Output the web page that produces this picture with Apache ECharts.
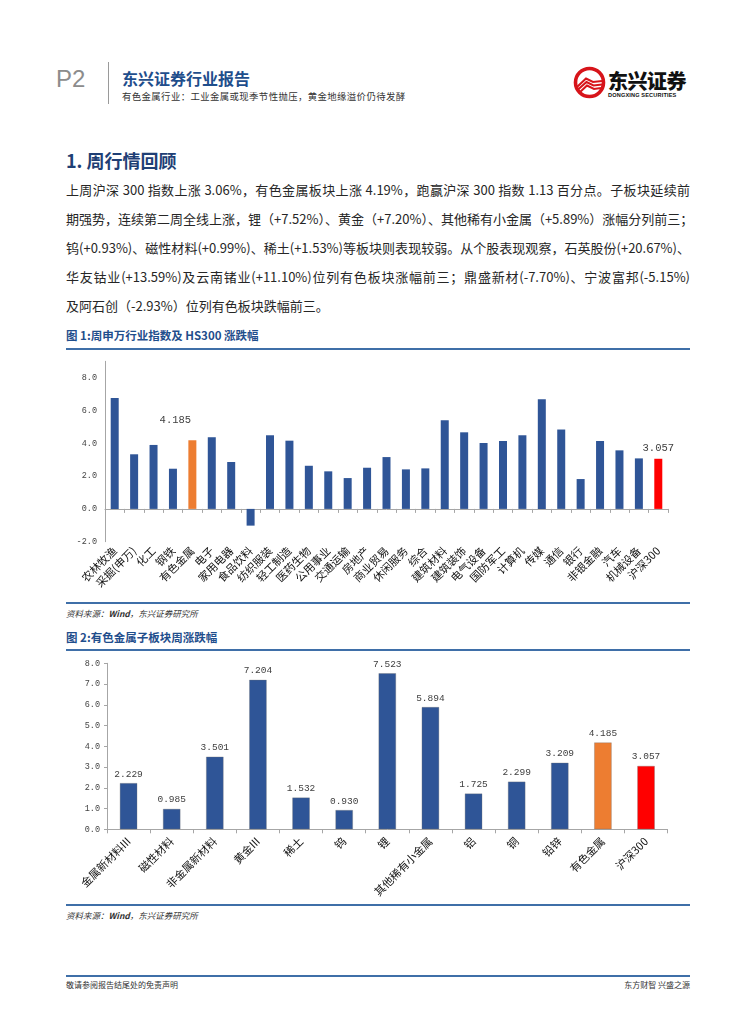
<!DOCTYPE html>
<html><head><meta charset="utf-8">
<script src="https://cdn.jsdelivr.net/npm/echarts@6/dist/echarts.min.js"></script>
<style>
html,body{margin:0;padding:0;background:#fff}
body{width:755px;height:1024px;position:relative;overflow:hidden;font-family:"Noto Sans CJK SC","Noto Sans",sans-serif;color:#222}
.abs{position:absolute;white-space:nowrap}
.para{position:absolute;left:66px;width:624px;font-size:13px;line-height:20px;text-align:justify;text-align-last:justify;color:#262626;white-space:nowrap}
.figt{position:absolute;left:66px;font-size:11.5px;font-weight:bold;color:#1F4E8C;line-height:14px}
.hl{position:absolute;left:66px;width:624px;height:2px;background:#3F6FA8}
.src{position:absolute;left:66px;font-size:8.5px;font-style:italic;color:#333;line-height:10px}
</style></head><body>

<!-- header -->
<div class="abs" style="left:56px;top:64px;font-family:'Liberation Sans',sans-serif;font-size:24px;color:#8c8c8c;line-height:30px">P2</div>
<div class="abs" style="left:108px;top:62px;width:1px;height:42px;background:#9a9a9a"></div>
<div class="abs" style="left:122px;top:69px;font-size:16px;font-weight:bold;color:#1F4E8C;line-height:18px">东兴证券行业报告</div>
<div class="abs" style="left:122px;top:91px;font-size:9.4px;color:#333;line-height:11px;letter-spacing:0.4px">有色金属行业：工业金属或现季节性抛压，黄金地缘溢价仍待发酵</div>
<svg class="abs" style="left:573px;top:66px" width="33" height="33" viewBox="0 0 33 33">
  <circle cx="16.5" cy="16.5" r="14" fill="#fff" stroke="#D7141A" stroke-width="3.6"/>
  <path d="M4 21 L13 12.5 L20 16 L29 15" fill="none" stroke="#D7141A" stroke-width="2"/>
  <path d="M4.5 24 L13.5 16 L20.5 19.5 L29 18.5" fill="none" stroke="#D7141A" stroke-width="2"/>
  <path d="M6 27 L14 19.5 L21 23 L28 22" fill="none" stroke="#D7141A" stroke-width="2"/>
</svg>
<div class="abs" style="left:608px;top:70px;font-size:20px;font-weight:900;color:#111;line-height:22px;letter-spacing:-0.5px">东兴证券</div>
<div class="abs" style="left:608px;top:92px;font-family:'Liberation Sans',sans-serif;font-size:5.6px;font-weight:bold;color:#111;line-height:7px;letter-spacing:0.15px">DONGXING SECURITIES</div>

<!-- section title -->
<div class="abs" style="left:66px;top:149px;font-size:18px;font-weight:bold;color:#1F3F75;line-height:22px">1. 周行情回顾</div>

<div class="para" style="top:180px">上周沪深 300 指数上涨 3.06%，有色金属板块上涨 4.19%，跑赢沪深 300 指数 1.13 百分点。子板块延续前</div>
<div class="para" style="top:209px">期强势，连续第二周全线上涨，锂（+7.52%）、黄金（+7.20%）、其他稀有小金属（+5.89%）涨幅分列前三；</div>
<div class="para" style="top:238px">钨(+0.93%)、磁性材料(+0.99%)、稀土(+1.53%)等板块则表现较弱。从个股表现观察，石英股份(+20.67%)、</div>
<div class="para" style="top:267px">华友钴业(+13.59%)及云南锗业(+11.10%)位列有色板块涨幅前三；鼎盛新材(-7.70%)、宁波富邦(-5.15%)</div>
<div class="para" style="top:296px;text-align-last:left">及阿石创（-2.93%）位列有色板块跌幅前三。</div>

<div class="figt" style="top:328px">图 1:周申万行业指数及 HS300 涨跌幅</div>
<div class="hl" style="top:348px"></div>
<div id="c1" class="abs" style="left:0;top:352px;width:755px;height:250px"></div>
<div class="hl" style="top:602px;height:1.5px"></div>
<div class="src" style="top:608px">资料来源：<b>Wind</b>，东兴证券研究所</div>

<div class="figt" style="top:630px">图 2:有色金属子板块周涨跌幅</div>
<div class="hl" style="top:649px"></div>
<div id="c2" class="abs" style="left:0;top:652px;width:755px;height:252px"></div>
<div class="hl" style="top:904px;height:1.5px"></div>
<div class="src" style="top:910px">资料来源：<b>Wind</b>，东兴证券研究所</div>

<!-- footer -->
<div class="hl" style="top:975px;height:1.5px"></div>
<div class="abs" style="left:66px;top:980px;font-size:8px;color:#333;line-height:10px">敬请参阅报告结尾处的免责声明</div>
<div class="abs" style="left:610px;top:980px;width:80px;text-align:right;font-size:8px;color:#333;line-height:10px">东方财智 兴盛之源</div>

<script>
// ---- Chart 1 data ----
const cats1 = ['农林牧渔','采掘(申万)','化工','钢铁','有色金属','电子','家用电器','食品饮料','纺织服装','轻工制造','医药生物','公用事业','交通运输','房地产','商业贸易','休闲服务','综合','建筑材料','建筑装饰','电气设备','国防军工','计算机','传媒','通信','银行','非银金融','汽车','机械设备','沪深300'];
const vals1 = [6.76,3.33,3.90,2.45,4.185,4.37,2.86,-1.02,4.49,4.16,2.63,2.29,1.88,2.51,3.16,2.41,2.47,5.41,4.67,4.02,4.14,4.49,6.69,4.84,1.82,4.14,3.57,3.08,3.057];
const yMin1 = -2, yMax1 = 9, yStep1 = 2;
// ---- Chart 2 data ----
const cats2 = ['金属新材料III','磁性材料','非金属新材料','黄金III','稀土','钨','锂','其他稀有小金属','铝','铜','铅锌','有色金属','沪深300'];
const vals2 = [2.229,0.985,3.501,7.204,1.532,0.930,7.523,5.894,1.725,2.299,3.209,4.185,3.057];
const yMin2 = 0, yMax2 = 8, yStep2 = 1;
// ---- highlight ----
const highlightColors = {'有色金属':'#ED7D31','沪深300':'#FF0000'};
const baseColor = '#2F5597';

const axisGray = '#a6a6a6';
const monoFont = '"Liberation Mono","DejaVu Sans Mono",monospace';
const cjkFont = '"Noto Sans CJK SC",sans-serif';

function colorOf(name){ return highlightColors[name] || baseColor; }

// Chart 1
const c1 = echarts.init(document.getElementById('c1'), null, {renderer:'canvas'});
const labelOffsets1 = {'有色金属':[-17,-11],'沪深300':[0,-1]};
c1.setOption({
  animation:false,
  grid:{left:105,right:87,top:9.3,bottom:60.3,containLabel:false,outerBoundsMode:'none'},
  xAxis:[
    {type:'category',data:cats1,position:'bottom',boundaryGap:true,
     axisLine:{show:false,onZero:false},axisTick:{show:false},
     axisLabel:{interval:0,rotate:45,margin:7,fontFamily:cjkFont,fontSize:11,color:'#111'}},
    {type:'category',data:cats1,position:'bottom',boundaryGap:true,
     axisLine:{show:true,onZero:true,lineStyle:{color:axisGray,width:1}},
     axisTick:{show:true,interval:0,length:4,lineStyle:{color:axisGray}},
     axisLabel:{show:false}}
  ],
  yAxis:{type:'value',min:yMin1,max:yMax1,interval:yStep1,
    splitLine:{show:false},
    axisLine:{show:true,lineStyle:{color:axisGray}},
    axisTick:{show:false},
    axisLabel:{showMaxLabel:false,margin:8,fontFamily:monoFont,fontSize:8.5,color:'#444',formatter:v=>v.toFixed(1)}},
  series:[{type:'bar',xAxisIndex:0,barWidth:8,
    data:cats1.map((n,i)=>{
      const d={value:vals1[i],itemStyle:{color:colorOf(n)}};
      if(highlightColors[n]){
        d.label={show:true,position:'top',distance:4,offset:labelOffsets1[n],fontFamily:monoFont,fontSize:10.5,color:'#404040',formatter:p=>p.value.toFixed(3)};
      }
      return d;
    })}]
});

// Chart 2
const c2 = echarts.init(document.getElementById('c2'), null, {renderer:'canvas'});
c2.setOption({
  animation:false,
  grid:{left:107,right:87.4,top:11.3,bottom:74.7,containLabel:false,outerBoundsMode:'none'},
  xAxis:{type:'category',data:cats2,boundaryGap:true,
    axisLine:{show:true,lineStyle:{color:axisGray}},
    axisTick:{show:true,interval:0,length:4,lineStyle:{color:axisGray}},
    axisLabel:{interval:0,rotate:45,margin:10,fontFamily:cjkFont,fontSize:11,color:'#111'}},
  yAxis:{type:'value',min:yMin2,max:yMax2,interval:yStep2,
    splitLine:{show:false},
    axisLine:{show:true,lineStyle:{color:axisGray}},
    axisTick:{show:true,length:3,lineStyle:{color:axisGray}},
    axisLabel:{margin:7,fontFamily:monoFont,fontSize:8.5,color:'#444',formatter:v=>v.toFixed(1)}},
  series:[{type:'bar',barWidth:17.5,
    label:{show:true,position:'top',distance:4,fontFamily:monoFont,fontSize:9.5,color:'#404040',formatter:p=>p.value.toFixed(3)},
    data:cats2.map((n,i)=>({value:vals2[i],itemStyle:{color:colorOf(n),borderColor:'rgba(110,110,110,0.55)',borderWidth:0.6}}))}]
});
</script>
</body></html>
